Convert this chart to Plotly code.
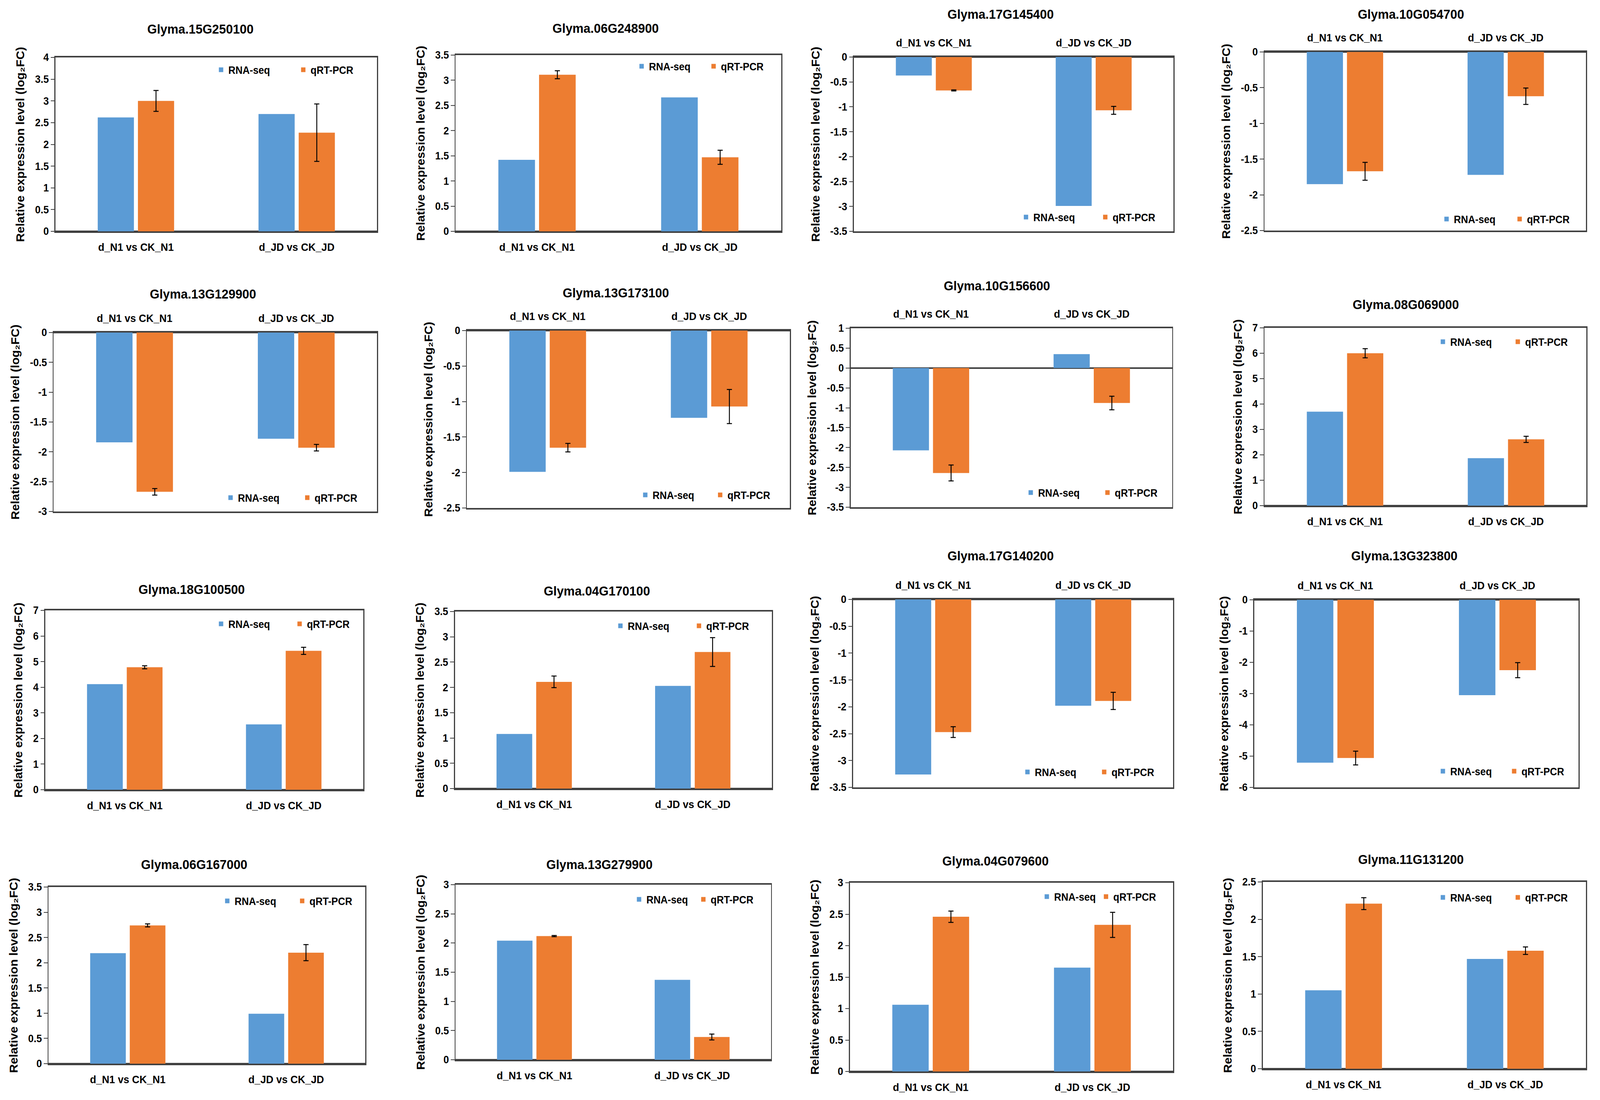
import plotly.graph_objects as go

# ---------------- data ----------------
genes = [
    "Glyma.15G250100", "Glyma.06G248900", "Glyma.17G145400", "Glyma.10G054700",
    "Glyma.13G129900", "Glyma.13G173100", "Glyma.10G156600", "Glyma.08G069000",
    "Glyma.18G100500", "Glyma.04G170100", "Glyma.17G140200", "Glyma.13G323800",
    "Glyma.06G167000", "Glyma.13G279900", "Glyma.04G079600", "Glyma.11G131200",
]
categories = ["d_N1 vs CK_N1", "d_JD vs CK_JD"]
series_names = ["RNA-seq", "qRT-PCR"]

rna_seq = [
    [2.62, 2.70], [1.42, 2.66], [-0.37, -2.99], [-1.85, -1.72],
    [-1.84, -1.78], [-1.99, -1.23], [-2.07, 0.35], [3.70, 1.87],
    [4.12, 2.55], [1.08, 2.03], [-3.26, -1.98], [-5.21, -3.05],
    [2.19, 0.99], [2.04, 1.37], [1.06, 1.65], [1.05, 1.47],
]
qrt_pcr = [
    [3.00, 2.27], [3.11, 1.47], [-0.67, -1.07], [-1.67, -0.62],
    [-2.67, -1.93], [-1.65, -1.07], [-2.64, -0.88], [6.00, 2.61],
    [4.78, 5.42], [2.11, 2.70], [-2.47, -1.89], [-5.06, -2.25],
    [2.74, 2.20], [2.12, 0.39], [2.46, 2.33], [2.21, 1.58],
]
qrt_err = [
    [0.24, 0.66], [0.08, 0.14], [0.01, 0.08], [0.125, 0.115],
    [0.055, 0.055], [0.06, 0.24], [0.20, 0.17], [0.18, 0.12],
    [0.06, 0.14], [0.115, 0.285], [0.10, 0.16], [0.22, 0.24],
    [0.03, 0.16], [0.01, 0.05], [0.09, 0.20], [0.08, 0.05],
]
y_ranges = [
    [0, 4], [0, 3.5], [-3.5, 0], [-2.5, 0],
    [-3, 0], [-2.5, 0], [-3.5, 1], [0, 7],
    [0, 7], [0, 3.5], [-3.5, 0], [-6, 0],
    [0, 3.5], [0, 3], [0, 3], [0, 2.5],
]
y_dticks = [0.5, 0.5, 0.5, 0.5, 0.5, 0.5, 0.5, 1, 1, 0.5, 0.5, 1, 0.5, 0.5, 0.5, 0.5]
labels_on_top = [False, False, True, True, True, True, True, False,
                 False, False, True, True, False, False, False, False]
y_title = "Relative expression level (log\u2082FC)"

# ---------------- layout (pixel positions in the 4379x2815 page) ----------------
W, H = 4379, 2815
# plot area boxes: left, right, top, bottom
plot_boxes = [
    (152, 1032, 147, 592), (1247, 2138, 141, 592), (2337, 3212, 146, 592), (3461, 4341, 133, 590),
    (147, 1032, 851, 1309), (1278, 2162, 846, 1300), (2328, 3208, 840, 1298), (3461, 4342, 839, 1294),
    (124, 994, 1562, 2021), (1245, 2113, 1565, 2018), (2335, 3211, 1534, 2015), (3433, 4320, 1535, 2015),
    (133, 1000, 2270, 2722), (1247, 2110, 2264, 2712), (2326, 3211, 2259, 2742), (3456, 4341, 2257, 2735),
]
title_pos = [
    (548, 74), (1657, 72), (2738, 36), (3861, 36),
    (555, 752), (1685, 749), (2728, 731), (3847, 779),
    (524, 1508), (1633, 1512), (2738, 1422), (3843, 1422),
    (531, 2212), (1640, 2212), (2724, 2203), (3861, 2199),
]
# legend: left of blue square, vertical centre, distance between items
legend_pos = [
    (601, 179, 220), (1752, 170, 192), (2804, 556, 212), (3955, 561, 195),
    (627, 1274, 205), (1762, 1267, 200), (2817, 1261, 205), (3945, 875, 200),
    (601, 1597, 210), (1694, 1602, 210), (2808, 1976, 205), (3945, 1974, 190),
    (618, 2306, 200), (1745, 2302, 171), (2861, 2295, 157), (3945, 2297, 200),
]

BLUE = "#5B9BD5"
ORANGE = "#ED7D31"
AXIS = "#404040"
FONT = "Liberation Sans, Arial, sans-serif"


def fmt(v):
    v = round(v, 6)
    if abs(v - round(v)) < 1e-9:
        return str(int(round(v)))
    return ("%g" % v)


fig = go.Figure()
layout = dict(
    width=W, height=H,
    margin=dict(l=0, r=0, t=0, b=0),
    paper_bgcolor="white", plot_bgcolor="white",
    barmode="group", bargap=0.5, bargroupgap=0.1,
    font=dict(family=FONT, color="black"),
    annotations=[],
)

for i in range(len(genes)):
    n = i + 1
    xa = "x" if n == 1 else f"x{n}"
    ya = "y" if n == 1 else f"y{n}"
    lg = "legend" if n == 1 else f"legend{n}"

    fig.add_trace(go.Bar(
        x=categories, y=rna_seq[i], name=series_names[0],
        marker=dict(color=BLUE, line=dict(width=0)),
        xaxis=xa, yaxis=ya, legend=lg, showlegend=True,
    ))
    fig.add_trace(go.Bar(
        x=categories, y=qrt_pcr[i], name=series_names[1],
        marker=dict(color=ORANGE, line=dict(width=0)),
        error_y=dict(type="data", array=qrt_err[i], visible=True,
                     color="black", thickness=2.5, width=7),
        xaxis=xa, yaxis=ya, legend=lg, showlegend=True,
    ))

    L, R, T, B = plot_boxes[i]
    lo, hi = y_ranges[i]
    dt = y_dticks[i]
    nt = int(round((hi - lo) / dt))
    tickvals = [lo + k * dt for k in range(nt + 1)]
    ticktext = [fmt(v) for v in tickvals]

    layout["xaxis" if n == 1 else f"xaxis{n}"] = dict(
        domain=[L / W, R / W], anchor=ya, type="category",
        categoryorder="array", categoryarray=categories,
        side="top" if labels_on_top[i] else "bottom",
        showline=True, linewidth=4, linecolor=AXIS, mirror=True,
        ticks="", showgrid=False, zeroline=False, automargin=False,
        ticklabelstandoff=12,
        tickfont=dict(family=FONT, size=28, color="black", weight="bold"),
    )
    layout["yaxis" if n == 1 else f"yaxis{n}"] = dict(
        domain=[1 - B / H, 1 - T / H], anchor=xa,
        range=[lo, hi], tickmode="array", tickvals=tickvals, ticktext=ticktext,
        ticks="outside", ticklen=10, tickwidth=2, tickcolor=AXIS,
        showline=True, linewidth=3, linecolor=AXIS, mirror=True,
        showgrid=False, zeroline=True, zerolinewidth=4, zerolinecolor=AXIS,
        automargin=False,
        tickfont=dict(family=FONT, size=27, color="black", weight="bold"),
        title=dict(text=y_title, standoff=20,
                   font=dict(family=FONT, size=31, color="black", weight="bold")),
    )

    tx, ty = title_pos[i]
    layout["annotations"].append(dict(
        x=tx / W, y=1 - ty / H, xref="paper", yref="paper",
        xanchor="center", yanchor="middle", showarrow=False,
        text=genes[i],
        font=dict(family=FONT, size=34, color="black", weight="bold"),
    ))

    bx, by, sp = legend_pos[i]
    layout[lg] = dict(
        x=(bx - 16) / W, y=1 - by / H, xanchor="left", yanchor="middle",
        orientation="h", bgcolor="rgba(0,0,0,0)", borderwidth=0,
        entrywidthmode="pixels", entrywidth=sp - 40,
        font=dict(family=FONT, size=27, color="black", weight="bold"),
        traceorder="normal",
    )

fig.update_layout(**layout)

# fit the fixed-size figure exactly into the browser viewport
fit_js = """
var gd = document.getElementById('{plot_id}');
document.documentElement.style.margin = '0';
document.documentElement.style.overflow = 'hidden';
document.body.style.margin = '0';
document.body.style.overflow = 'hidden';
var sx = window.innerWidth / %d, sy = window.innerHeight / %d;
gd.style.transformOrigin = '0 0';
gd.style.transform = 'scale(' + sx + ',' + sy + ')';
""" % (W, H)

fig.write_html("out.html", post_script=fit_js, config={"displayModeBar": False})
